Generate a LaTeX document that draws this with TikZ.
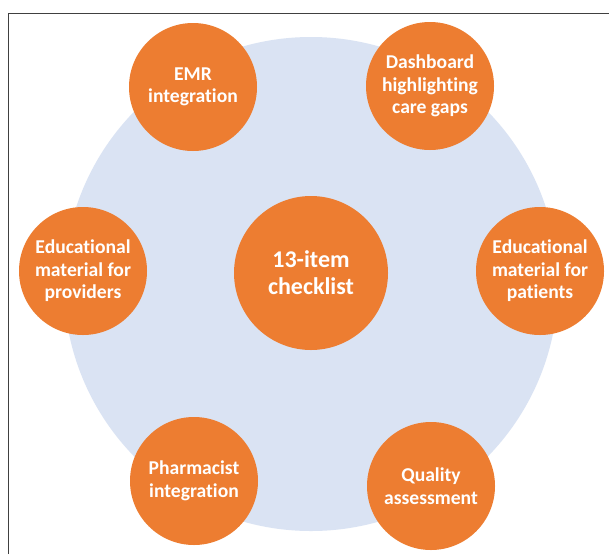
\documentclass[tikz,border=0pt]{standalone}
\usepackage{fontspec}
\setmainfont{Carlito}[Ligatures={NoCommon}]
\definecolor{hubblue}{HTML}{DAE3F3}
\definecolor{dotorange}{HTML}{ED7D31}
\definecolor{framegray}{HTML}{404040}
\begin{document}
\begin{tikzpicture}[x=1pt,y=-1pt,
  spoke/.style={circle,fill=dotorange,minimum size=128pt,inner sep=0pt,align=center,
    text=white,font=\fontsize{19.6}{22.6}\selectfont\bfseries},
  hub/.style={circle,fill=dotorange,minimum size=154pt,inner sep=0pt,align=center,
    text=white,font=\fontsize{24}{27}\selectfont\bfseries}]
\useasboundingbox (0,0) rectangle (609,554);
\fill[white] (0,0) rectangle (609,554);
\draw[framegray,line width=1.2pt] (8.5,554) -- (8.5,13.5) -- (609,13.5);
\node[circle,fill=hubblue,minimum size=494pt,inner sep=0pt] (bg) at (311,284) {};
\node[hub] (center) at (311,273) {13-item\\checklist};
\node[spoke] (emr) at (193,87) {EMR\\integration};
\node[spoke] (dash) at (430,86) {Dashboard\\highlighting\\care gaps};
\node[spoke] (prov) at (83,271) {Educational\\material for\\providers};
\node[spoke] (pat) at (540,271) {Educational\\material for\\patients};
\node[spoke] (pharm) at (194,481) {Pharmacist\\integration};
\node[spoke] (qual) at (431,486) {Quality\\assessment};
\end{tikzpicture}
\end{document}
